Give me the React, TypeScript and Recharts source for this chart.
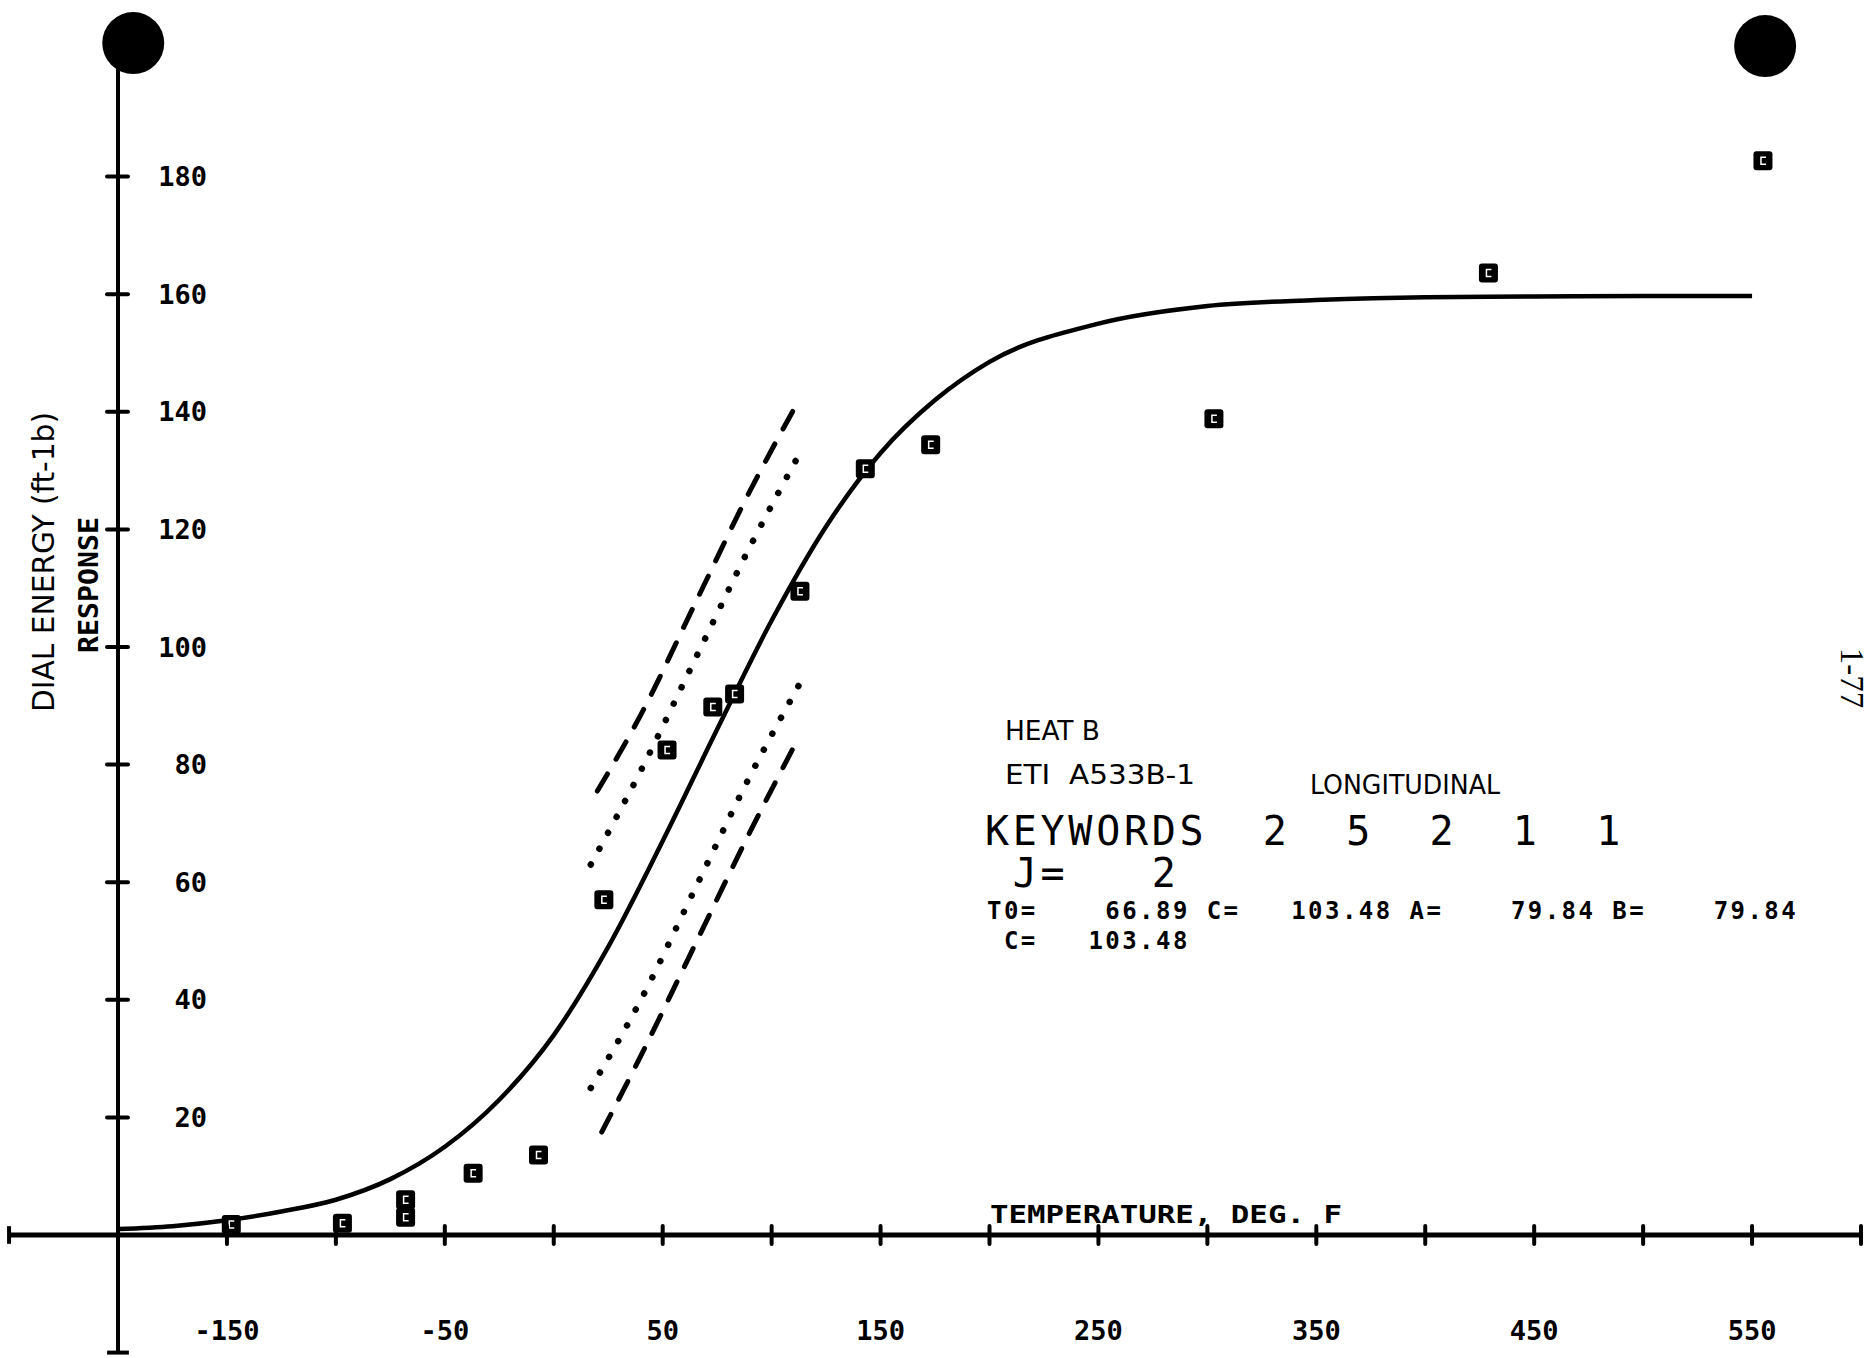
import { ComposedChart, Line, Scatter, XAxis, YAxis, ReferenceLine, ReferenceDot } from "recharts";

const W = 1870;
const H = 1358;

const xTicks = [-200, -150, -100, -50, 0, 50, 100, 150, 200, 250, 300, 350, 400, 450, 500, 550, 600];
const xTickLabels = [-150, -50, 50, 150, 250, 350, 450, 550];
const yTicks = [20, 40, 60, 80, 100, 120, 140, 160, 180];

// fitted transition curve
const fitCurve = [
  { x: -200, y: 1 },
  { x: -175, y: 1.5 },
  { x: -150, y: 2.5 },
  { x: -125, y: 4 },
  { x: -100, y: 6 },
  { x: -75, y: 9.5 },
  { x: -50, y: 15 },
  { x: -25, y: 23 },
  { x: 0, y: 34 },
  { x: 25, y: 49 },
  { x: 50, y: 67 },
  { x: 75, y: 86 },
  { x: 100, y: 104.5 },
  { x: 125, y: 120.5 },
  { x: 150, y: 133 },
  { x: 175, y: 142 },
  { x: 200, y: 148.5 },
  { x: 250, y: 155 },
  { x: 300, y: 158 },
  { x: 350, y: 159 },
  { x: 400, y: 159.5 },
  { x: 450, y: 159.6 },
  { x: 500, y: 159.7 },
  { x: 550, y: 159.7 },
];

// confidence bands
const upperDashed = [
  { x: 20, y: 75.5 },
  { x: 40, y: 88.5 },
  { x: 65, y: 107.5 },
  { x: 90, y: 126.5 },
  { x: 113, y: 142.3 },
];
const upperDotted = [
  { x: 17, y: 63 },
  { x: 40, y: 79 },
  { x: 65, y: 98 },
  { x: 90, y: 117 },
  { x: 113, y: 133 },
];
const lowerDotted = [
  { x: 17, y: 25 },
  { x: 40, y: 40 },
  { x: 65, y: 59 },
  { x: 90, y: 78 },
  { x: 114, y: 94.5 },
];
const lowerDashed = [
  { x: 22, y: 17.5 },
  { x: 40, y: 30.5 },
  { x: 65, y: 49.5 },
  { x: 90, y: 68.5 },
  { x: 113, y: 85 },
];

// charpy test results
const tests = [
  { x: -148, y: 1.8 },
  { x: -97, y: 2 },
  { x: -68, y: 3 },
  { x: -68, y: 6 },
  { x: -37, y: 10.5 },
  { x: -7, y: 13.6 },
  { x: 23, y: 57 },
  { x: 52, y: 82.5 },
  { x: 73, y: 89.8 },
  { x: 83, y: 92 },
  { x: 113, y: 109.5 },
  { x: 143, y: 130.3 },
  { x: 173, y: 134.4 },
  { x: 303, y: 138.8 },
  { x: 429, y: 163.6 },
  { x: 555, y: 182.7 },
];

// punched holes at the top of the sheet
const holes = [
  { x: -193, y: 202.7 },
  { x: 556, y: 202.2 },
];

const MONO = "'DejaVu Sans Mono', monospace";
const TYPE = "'DejaVu Sans Condensed', 'DejaVu Sans', sans-serif";
const INK = "#000";

function XTick(props: any) {
  const { x, y, payload } = props;
  const v = payload.value;
  return (
    <g>
      <line x1={x} x2={x} y1={y - 9} y2={y + 9} stroke={INK} strokeWidth={4} strokeLinecap="round" />
      {xTickLabels.includes(v) && (
        <text x={x} y={y + 95} textAnchor="middle" dominantBaseline="central" fontFamily={MONO} fontWeight="bold" fontSize={27} fill={INK}>
          {v}
        </text>
      )}
    </g>
  );
}

function YTick(props: any) {
  const { x, y, payload } = props;
  return (
    <g>
      <line x1={x - 11} x2={x + 10} y1={y} y2={y} stroke={INK} strokeWidth={4} strokeLinecap="round" />
      <text x={x + 89} y={y} textAnchor="end" dominantBaseline="central" fontFamily={MONO} fontWeight="bold" fontSize={27} fill={INK}>
        {payload.value}
      </text>
    </g>
  );
}

function TestMark(props: any) {
  const { cx, cy } = props;
  return (
    <g>
      <rect x={cx - 9.5} y={cy - 9.5} width={19} height={19} rx={3} fill={INK} />
      <path d={`M ${cx + 3} ${cy - 3.5} h -5 v 7 h 5`} fill="none" stroke="#fff" strokeWidth={1.5} />
    </g>
  );
}

export default function App() {
  return (
    <div style={{ position: "absolute", left: 0, top: 0, width: W, height: H, background: "#fff" }}>
      <ComposedChart width={W} height={H} margin={{ top: 59, right: 9, bottom: 0, left: 117 }}>
        <XAxis
          type="number"
          dataKey="x"
          domain={[-200, 600]}
          ticks={xTicks}
          interval={0}
          allowDataOverflow
          height={123}
          axisLine={false}
          tickLine={false}
          tickSize={0}
          tickMargin={0}
          tick={(p: any) => <XTick {...p} />}
        />
        <YAxis
          type="number"
          dataKey="y"
          domain={[0, 200]}
          ticks={yTicks}
          interval={0}
          allowDataOverflow
          width={1}
          axisLine={false}
          tickLine={false}
          tickSize={0}
          tickMargin={0}
          tick={(p: any) => <YTick {...p} />}
        />
        <ReferenceLine segment={[{ x: -250, y: 0 }, { x: 600, y: 0 }]} stroke={INK} strokeWidth={5} ifOverflow="visible" />
        <ReferenceLine segment={[{ x: -200, y: -20 }, { x: -200, y: 200 }]} stroke={INK} strokeWidth={4} ifOverflow="visible" />
        <ReferenceLine segment={[{ x: -250, y: -1.5 }, { x: -250, y: 1.5 }]} stroke={INK} strokeWidth={4} ifOverflow="visible" />
        <ReferenceLine segment={[{ x: -205, y: -20 }, { x: -195, y: -20 }]} stroke={INK} strokeWidth={4} ifOverflow="visible" />
        {holes.map((h, i) => (
          <ReferenceDot key={i} x={h.x} y={h.y} r={31} fill={INK} stroke="none" ifOverflow="visible" />
        ))}
        <Line data={fitCurve} dataKey="y" type="monotone" stroke={INK} strokeWidth={4.5} dot={false} activeDot={false} isAnimationActive={false} />
        <Line data={upperDashed} dataKey="y" type="monotone" stroke={INK} strokeWidth={5} strokeDasharray="20 17" strokeLinecap="round" dot={false} activeDot={false} isAnimationActive={false} />
        <Line data={lowerDashed} dataKey="y" type="monotone" stroke={INK} strokeWidth={5} strokeDasharray="20 17" strokeLinecap="round" dot={false} activeDot={false} isAnimationActive={false} />
        <Line data={upperDotted} dataKey="y" type="monotone" stroke={INK} strokeWidth={6.5} strokeDasharray="0.1 18" strokeLinecap="round" dot={false} activeDot={false} isAnimationActive={false} />
        <Line data={lowerDotted} dataKey="y" type="monotone" stroke={INK} strokeWidth={6.5} strokeDasharray="0.1 18" strokeLinecap="round" dot={false} activeDot={false} isAnimationActive={false} />
        <Scatter data={tests} dataKey="y" shape={(p: any) => <TestMark {...p} />} isAnimationActive={false} />
      </ComposedChart>

      <svg width={W} height={H} style={{ position: "absolute", left: 0, top: 0, pointerEvents: "none" }}>
        <g fill={INK} dominantBaseline="central">
          <text x={43} y={562} transform="rotate(-90 43 562)" textAnchor="middle" fontFamily={TYPE} fontSize={30} textLength={300} lengthAdjust="spacingAndGlyphs">
            DIAL ENERGY (ft-1b)
          </text>
          <text x={88} y={585} transform="rotate(-90 88 585)" textAnchor="middle" fontFamily={MONO} fontWeight="bold" fontSize={27} textLength={136} lengthAdjust="spacingAndGlyphs">
            RESPONSE
          </text>
          <text x={990} y={1214} fontFamily={MONO} fontWeight="bold" fontSize={25} textLength={352} lengthAdjust="spacingAndGlyphs">
            TEMPERATURE, DEG. F
          </text>
          <text x={1005} y={731} fontFamily={TYPE} fontSize={26} textLength={95} lengthAdjust="spacingAndGlyphs">
            HEAT B
          </text>
          <text x={1005} y={775} fontFamily={TYPE} fontSize={26} textLength={190} lengthAdjust="spacingAndGlyphs" style={{ whiteSpace: "pre" }}>
            ETI  A533B-1
          </text>
          <text x={1310} y={785} fontFamily={TYPE} fontSize={26} textLength={190} lengthAdjust="spacingAndGlyphs">
            LONGITUDINAL
          </text>
          <text x={985} y={831} fontFamily={MONO} fontSize={40} letterSpacing={3.7} style={{ whiteSpace: "pre" }}>
            {"KEYWORDS  2  5  2  1  1"}
          </text>
          <text x={985} y={873} fontFamily={MONO} fontSize={40} letterSpacing={3.7} style={{ whiteSpace: "pre" }}>
            {" J=   2"}
          </text>
          <text x={987} y={911} fontFamily={MONO} fontWeight="bold" fontSize={24} letterSpacing={2.45} style={{ whiteSpace: "pre" }}>
            {"T0=    66.89 C=   103.48 A=    79.84 B=    79.84"}
          </text>
          <text x={987} y={941} fontFamily={MONO} fontWeight="bold" fontSize={24} letterSpacing={2.45} style={{ whiteSpace: "pre" }}>
            {" C=   103.48"}
          </text>
          <text x={1852} y={678} transform="rotate(90 1852 678)" textAnchor="middle" fontFamily="'Liberation Serif', serif" fontSize={33}>
            1-77
          </text>
        </g>
      </svg>
    </div>
  );
}
